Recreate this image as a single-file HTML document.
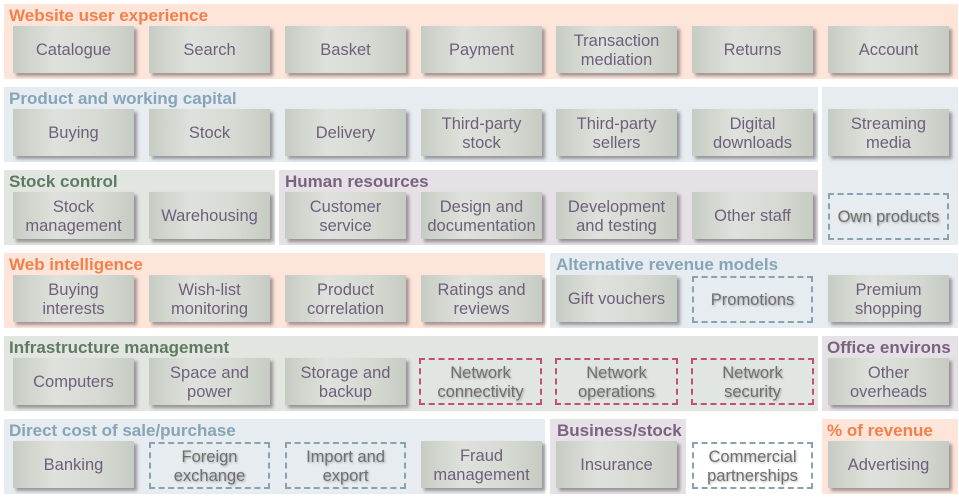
<!DOCTYPE html>
<html><head><meta charset="utf-8"><style>
body{margin:0;width:959px;height:502px;background:#fff;position:relative;overflow:hidden;font-family:"Liberation Sans",sans-serif}
.s{position:absolute}
.t{position:absolute;font-weight:bold;font-size:17px;white-space:nowrap}
.b{position:absolute;width:121px;height:47px;display:flex;align-items:center;justify-content:center;text-align:center;font-size:16.5px;line-height:19px;color:#6e5f7c;padding-top:2px;
background:linear-gradient(90deg,#c6ccc3 0%,#dfe2dc 35%,#d6dad3 70%,#c6ccc3 100%);box-shadow:3px 3px 3px rgba(90,80,90,.55);box-sizing:border-box}
.d{background:none;box-shadow:none;border:2px dashed #8aa2b0;color:#6f6f6f;text-shadow:1px 1px 2px rgba(0,0,0,.3)}
.r{border-color:#c4506f}
.pe{background:#fde5da}.bl{background:#e6ecef}.gr{background:#e2e6e1}.pu{background:#e6e1e6}
.co{color:#f47f4a}.cb{color:#86a5b8}.cg{color:#5f7a62}.cp{color:#7b6280}
</style></head><body>
<div class="s pe" style="left:4px;top:4px;width:954px;height:75px"></div>
<div class="t co" style="left:9px;top:6px">Website user experience</div>
<div class="s bl" style="left:4px;top:87px;width:814px;height:75px"></div>
<div class="s bl" style="left:822px;top:87px;width:136px;height:158px"></div>
<div class="t cb" style="left:9px;top:89px">Product and working capital</div>
<div class="s gr" style="left:4px;top:170px;width:271px;height:75px"></div>
<div class="t cg" style="left:9px;top:172px">Stock control</div>
<div class="s pu" style="left:279px;top:170px;width:539px;height:75px"></div>
<div class="t cp" style="left:285px;top:172px">Human resources</div>
<div class="s pe" style="left:4px;top:253px;width:541px;height:75px"></div>
<div class="t co" style="left:9px;top:255px">Web intelligence</div>
<div class="s bl" style="left:550px;top:253px;width:408px;height:75px"></div>
<div class="t cb" style="left:556px;top:255px">Alternative revenue models</div>
<div class="s gr" style="left:4px;top:336px;width:814px;height:75px"></div>
<div class="t cg" style="left:9px;top:338px">Infrastructure management</div>
<div class="s pu" style="left:822px;top:336px;width:136px;height:75px"></div>
<div class="t cp" style="left:827px;top:338px">Office environs</div>
<div class="s bl" style="left:4px;top:419px;width:541px;height:75px"></div>
<div class="t cb" style="left:9px;top:421px">Direct cost of sale/purchase</div>
<div class="s pu" style="left:550px;top:419px;width:136px;height:75px"></div>
<div class="t cp" style="left:557px;top:421px">Business/stock</div>
<div class="s pe" style="left:822px;top:419px;width:136px;height:75px"></div>
<div class="t co" style="left:827px;top:421px">% of revenue</div>

<div class="b" style="left:13px;top:26px">Catalogue</div>
<div class="b" style="left:149px;top:26px">Search</div>
<div class="b" style="left:285px;top:26px">Basket</div>
<div class="b" style="left:421px;top:26px">Payment</div>
<div class="b" style="left:556px;top:26px">Transaction<br>mediation</div>
<div class="b" style="left:692px;top:26px">Returns</div>
<div class="b" style="left:828px;top:26px">Account</div>

<div class="b" style="left:13px;top:109px">Buying</div>
<div class="b" style="left:149px;top:109px">Stock</div>
<div class="b" style="left:285px;top:109px">Delivery</div>
<div class="b" style="left:421px;top:109px">Third-party<br>stock</div>
<div class="b" style="left:556px;top:109px">Third-party<br>sellers</div>
<div class="b" style="left:692px;top:109px">Digital<br>downloads</div>
<div class="b" style="left:828px;top:109px">Streaming<br>media</div>

<div class="b" style="left:13px;top:192px">Stock<br>management</div>
<div class="b" style="left:149px;top:192px">Warehousing</div>
<div class="b" style="left:285px;top:192px">Customer<br>service</div>
<div class="b" style="left:421px;top:192px">Design and<br>documentation</div>
<div class="b" style="left:556px;top:192px">Development<br>and testing</div>
<div class="b" style="left:692px;top:192px">Other staff</div>
<div class="b d" style="left:828px;top:193px">Own products</div>

<div class="b" style="left:13px;top:275px">Buying<br>interests</div>
<div class="b" style="left:149px;top:275px">Wish-list<br>monitoring</div>
<div class="b" style="left:285px;top:275px">Product<br>correlation</div>
<div class="b" style="left:421px;top:275px">Ratings and<br>reviews</div>
<div class="b" style="left:556px;top:275px">Gift vouchers</div>
<div class="b d" style="left:692px;top:276px">Promotions</div>
<div class="b" style="left:828px;top:275px">Premium<br>shopping</div>

<div class="b" style="left:13px;top:358px">Computers</div>
<div class="b" style="left:149px;top:358px">Space and<br>power</div>
<div class="b" style="left:285px;top:358px">Storage and<br>backup</div>
<div class="b d r" style="left:419px;top:358px;width:123px">Network<br>connectivity</div>
<div class="b d r" style="left:555px;top:358px;width:123px">Network<br>operations</div>
<div class="b d r" style="left:691px;top:358px;width:123px">Network<br>security</div>
<div class="b" style="left:828px;top:358px">Other<br>overheads</div>

<div class="b" style="left:13px;top:441px">Banking</div>
<div class="b d" style="left:149px;top:442px">Foreign<br>exchange</div>
<div class="b d" style="left:285px;top:442px">Import and<br>export</div>
<div class="b" style="left:421px;top:441px">Fraud<br>management</div>
<div class="b" style="left:556px;top:441px">Insurance</div>
<div class="b d" style="left:692px;top:442px">Commercial<br>partnerships</div>
<div class="b" style="left:828px;top:441px">Advertising</div>
</body></html>
